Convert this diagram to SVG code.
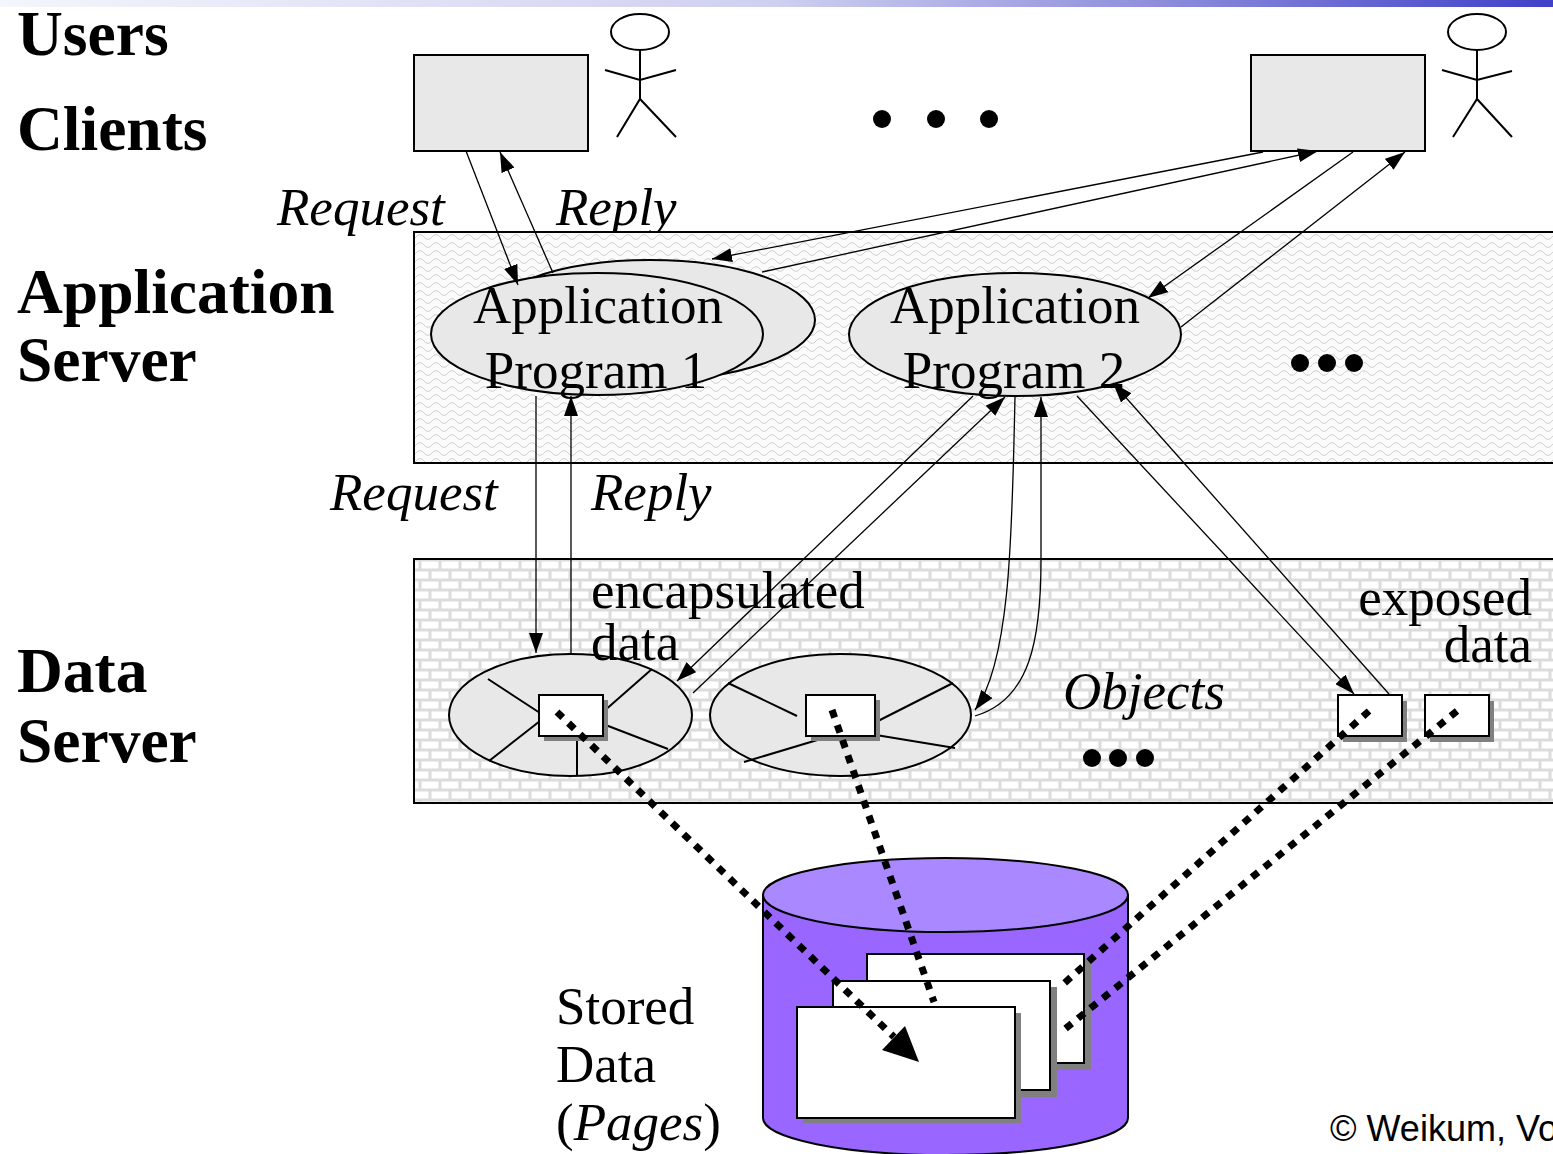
<svg xmlns="http://www.w3.org/2000/svg" width="1553" height="1154" viewBox="0 0 1553 1154">
<style>
.bl{font-family:"Liberation Serif","Times New Roman",serif;font-weight:bold;font-size:63.5px;fill:#000}
.it{font-family:"Liberation Serif","Times New Roman",serif;font-style:italic;font-size:53px;fill:#000}
.rg{font-family:"Liberation Serif","Times New Roman",serif;font-size:53px;fill:#000}
.ln{fill:none;stroke:#000;stroke-width:1.3}
.dot{fill:none;stroke:#000;stroke-width:7;stroke-dasharray:8 8}
.box{fill:#e8e8e8;stroke:#000;stroke-width:2}
.ell{fill:#e8e8e8;stroke:#000;stroke-width:2}
.fig{fill:none;stroke:#000;stroke-width:2}
.sp{stroke:#000;stroke-width:2}
.wb{fill:#fff;stroke:#000;stroke-width:2}
.sh{fill:#808080}
</style>
<defs>
<linearGradient id="bar" x1="0" y1="0" x2="1" y2="0">
<stop offset="0" stop-color="#f5f5fc"/>
<stop offset="0.5" stop-color="#cfcff0"/>
<stop offset="0.75" stop-color="#8c8cdc"/>
<stop offset="1" stop-color="#4040c8"/>
</linearGradient>
<pattern id="wave" width="16" height="8" patternUnits="userSpaceOnUse">
<rect width="16" height="8" fill="#fbfbfb"/>
<path d="M0,5 C2,2 6,2 8,5 S14,8 16,5" fill="none" stroke="#cfcfcf" stroke-width="1"/>
</pattern>
<pattern id="brick" width="20" height="20" patternUnits="userSpaceOnUse">
<rect width="20" height="20" fill="#dcdcdc"/>
<rect x="1.5" y="1.5" width="17" height="7" fill="#fff"/>
<rect x="-8.5" y="11.5" width="17" height="7" fill="#fff"/>
<rect x="11.5" y="11.5" width="17" height="7" fill="#fff"/>
</pattern>
<marker id="ah" viewBox="0 0 20 14" refX="20" refY="7" markerWidth="20" markerHeight="14" markerUnits="userSpaceOnUse" orient="auto">
<path d="M0,0 L20,7 L0,14 z" fill="#000"/>
</marker>
</defs>
<rect width="1553" height="1154" fill="#fff"/>
<rect x="0" y="0" width="1553" height="7" fill="url(#bar)"/>

<g id="labels">
<text class="bl" x="17" y="55">Users</text>
<text class="bl" x="17" y="150">Clients</text>
<text class="bl" x="17" y="313">Application</text>
<text class="bl" x="17" y="381">Server</text>
<text class="bl" x="17" y="692">Data</text>
<text class="bl" x="17" y="762">Server</text>
<text class="it" x="277" y="225">Request</text>
<text class="it" x="556" y="225">Reply</text>
<text class="it" x="330" y="510">Request</text>
<text class="it" x="591" y="510">Reply</text>
</g>

<g id="app-server">
<rect x="414" y="232" width="1150" height="231" fill="url(#wave)" stroke="#000" stroke-width="2"/>
<circle cx="1300" cy="363" r="9"/><circle cx="1327" cy="363" r="9"/><circle cx="1354" cy="363" r="9"/>
</g>

<g id="data-server">
<rect x="414" y="559" width="1150" height="244" fill="url(#brick)" stroke="#000" stroke-width="2"/>
<circle cx="1092" cy="758" r="9"/><circle cx="1118" cy="758" r="9"/><circle cx="1145" cy="758" r="9"/>
</g>

<g id="storage">
<path d="M763,895 L763,1118 A182.5,37 0 0 0 1128,1118 L1128,895 Z" fill="#9966ff" stroke="#000" stroke-width="2"/>
<ellipse cx="945.5" cy="895" rx="182.5" ry="37" fill="#aa88ff" stroke="#000" stroke-width="2"/>
<rect class="sh" x="873" y="960" width="218" height="110"/>
<rect class="wb" x="867" y="954" width="217" height="109"/>
<rect class="sh" x="839" y="987" width="218" height="110"/>
<rect class="wb" x="833" y="981" width="217" height="109"/>
<rect class="sh" x="803" y="1013" width="218" height="110"/>
<rect class="wb" x="797" y="1007" width="218" height="111"/>
</g>

<g id="client1">
<rect class="box" x="414" y="55" width="174" height="96"/>
</g>
<g id="user1" class="fig">
<ellipse cx="640" cy="32" rx="29" ry="18"/>
<path d="M640,50 L640,99 M605,70 L640,80 L676,70 M617,137 L640,99 L676,137"/>
</g>
<g id="client2">
<rect class="box" x="1251" y="55" width="174" height="96"/>
</g>
<g id="user2" class="fig">
<ellipse cx="1477" cy="32" rx="29" ry="18"/>
<path d="M1477,50 L1477,99 M1442,70 L1477,80 L1512,71 M1453,137 L1477,99 L1512,137"/>
</g>
<g id="ellipsis-clients">
<circle cx="882" cy="119" r="9"/><circle cx="936" cy="119" r="9"/><circle cx="989" cy="119" r="9"/>
</g>

<g id="app1">
<ellipse class="ell" cx="650" cy="320" rx="165" ry="60"/>
<ellipse class="ell" cx="597" cy="334" rx="166" ry="61"/>
</g>
<g id="app2">
<ellipse class="ell" cx="1015" cy="334.5" rx="166" ry="61.5"/>
</g>

<g id="object1">
<ellipse class="ell" cx="570.5" cy="715" rx="121.5" ry="61"/>
<path class="sp" d="M488,679 L540,713 M540,721 L489,761 M603,712 L652,669 M603,724 L668,749 M577,736 L577,776"/>
<rect class="sh" x="544" y="700" width="64" height="41"/>
<rect class="wb" x="539" y="695" width="64" height="41"/>
</g>
<g id="object2">
<ellipse class="ell" cx="840.5" cy="715" rx="130.5" ry="61"/>
<path class="sp" d="M728,683 L797,716 M834,735 L744,762 M876,722 L953,683 M876,735 L955,748"/>
<rect class="sh" x="811" y="700" width="69" height="41"/>
<rect class="wb" x="806" y="695" width="69" height="41"/>
</g>
<g id="exposed1">
<rect class="sh" x="1343" y="701" width="64" height="41"/>
<rect class="wb" x="1338" y="695" width="64" height="41"/>
</g>
<g id="exposed2">
<rect class="sh" x="1430" y="701" width="64" height="41"/>
<rect class="wb" x="1425" y="695" width="64" height="41"/>
</g>

<g id="connectors">
<path class="ln" marker-end="url(#ah)" d="M466,151 L518,285"/>
<path class="ln" marker-end="url(#ah)" d="M553,273 L500,152"/>
<path class="ln" marker-end="url(#ah)" d="M1263,152 L712,259"/>
<path class="ln" marker-end="url(#ah)" d="M762,272 L1318,151"/>
<path class="ln" marker-end="url(#ah)" d="M1353,152 L1148,298"/>
<path class="ln" marker-end="url(#ah)" d="M1181,327 L1405,152"/>
<path class="ln" marker-end="url(#ah)" d="M536,396 L536,653"/>
<path class="ln" marker-end="url(#ah)" d="M571,654 L571,396"/>
<path class="ln" marker-end="url(#ah)" d="M973,396 L677,681"/>
<path class="ln" marker-end="url(#ah)" d="M693,693 L1005,397"/>
<path class="ln" marker-end="url(#ah)" d="M1015,397 C1012,520 1012,660 975,710"/>
<path class="ln" marker-end="url(#ah)" d="M975,716 C1030,700 1041,640 1041,560 L1041,397"/>
<path class="ln" marker-end="url(#ah)" d="M1077,396 L1354,694"/>
<path class="ln" marker-end="url(#ah)" d="M1389,694 L1113,383"/>
<path class="dot" d="M557,712 L894,1037"/>
<polygon points="919,1062 882,1050 905,1026" fill="#000"/>
<path class="dot" d="M832,710 L934,1002"/>
<path class="dot" d="M1369,711 L1060,987"/>
<path class="dot" d="M1457,711 L1060,1033"/>
</g>

<g id="node-texts">
<text class="rg" x="598" y="323" text-anchor="middle">Application</text>
<text class="rg" x="596" y="388" text-anchor="middle">Program 1</text>
<text class="rg" x="1015" y="323" text-anchor="middle">Application</text>
<text class="rg" x="1014" y="388" text-anchor="middle">Program 2</text>
<text class="rg" x="591" y="608">encapsulated</text>
<text class="rg" x="591" y="660">data</text>
<text class="rg" x="1532" y="615" text-anchor="end">exposed</text>
<text class="rg" x="1532" y="662" text-anchor="end">data</text>
<text class="it" x="1063" y="709">Objects</text>
<text class="rg" x="556" y="1024">Stored</text>
<text class="rg" x="556" y="1082">Data</text>
<text class="rg" x="556" y="1140">(<tspan font-style="italic">Pages</tspan>)</text>
<text x="1330" y="1141" font-family="Liberation Sans, Arial, sans-serif" font-size="36">© Weikum, Vossen</text>
</g>
</svg>
